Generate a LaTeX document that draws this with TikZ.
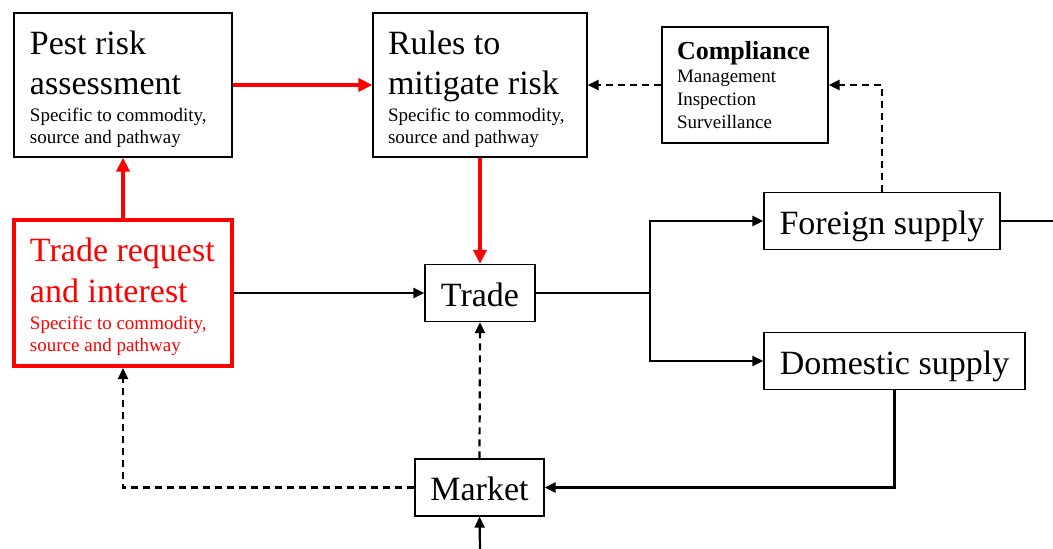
\documentclass[tikz,border=0pt]{standalone}
\usepackage{fontspec}
\setmainfont{Liberation Serif}
\usetikzlibrary{arrows.meta}
\definecolor{rred}{RGB}{255,0,0}
\newcommand{\smalltxt}{\fontsize{19}{22}\selectfont}
\newcommand{\bigtxt}{\fontsize{34}{40.5}\selectfont}
\newcommand{\natsp}{\spaceskip=0pt\xspaceskip=0pt\parindent=0pt\raggedright}
\newcommand{\subline}[2]{\par\vspace{5pt}\smalltxt\natsp\mbox{#1}\\\mbox{#2}\par}
\begin{document}
\begin{tikzpicture}[x=1pt,y=-1pt,
  box/.style={draw=black, line width=1.2pt, fill=white, inner ysep=0pt, align=left},
  big/.style={font=\bigtxt},
  onebox/.style={box, big, minimum height=57, inner xsep=2, text height=26pt, text depth=0pt},
  blk/.style={line width=2.2pt, draw=black},
  blkarr/.style={blk, -{Triangle[length=11pt,width=10pt]}},
  dsh/.style={blk, dash pattern=on 7pt off 5pt, -{Triangle[length=11pt,width=10pt]}},
  redarr/.style={line width=4pt, draw=rred, -{Triangle[length=14pt,width=13pt]}}]
\useasboundingbox (0,0) rectangle (1053,549);
% nodes
\node[box, big, minimum width=218, minimum height=144, inner xsep=16, text width=186] (pest) at (123,85)
  {\natsp\rule{0pt}{32pt}\mbox{Pest risk}\\\mbox{assessment}\subline{Specific to commodity,}{source and pathway}};
\node[box, big, minimum width=214, minimum height=144, inner xsep=15, text width=184] (rules) at (480,85)
  {\natsp\rule{0pt}{32pt}\mbox{Rules to}\\\mbox{mitigate risk}\subline{Specific to commodity,}{source and pathway}};
\node[box, minimum width=166, minimum height=116, inner xsep=15, text width=136, font=\fontsize{26}{30}\selectfont\bfseries] (comp) at (745,85)
  {\natsp\mbox{Compliance}\par\fontsize{19}{23}\selectfont\mdseries\natsp \mbox{Management}\\\mbox{Inspection}\\\mbox{Surveillance}\par};
\node[box, big, draw=rred, text=rred, line width=4pt, minimum width=218, minimum height=146, inner xsep=16, text width=186] (tr) at (123,293)
  {\natsp\rule{0pt}{31pt}\mbox{Trade request}\\\mbox{and interest}\subline{Specific to commodity,}{source and pathway}};
\node[onebox, minimum width=110] (trade) at (480,293) {Trade};
\node[onebox, minimum width=129] (market) at (479.5,487.5) {Market};
\node[onebox, minimum width=236] (foreign) at (882,221) {Foreign supply};
\node[onebox, minimum width=261] (domestic) at (894.5,361) {Domestic supply};
% coordinates
\coordinate (sp) at (650,293);
\coordinate (fout) at (1053,221);
\coordinate (bin) at (480,549);
% red connectors
\draw[redarr] (pest.east) -- (rules.west);
\draw[redarr] (tr.north) -- (pest.south);
\draw[redarr] (rules.south) -- (trade.north);
% dashed
\draw[dsh] (comp.west) -- (rules.east);
\draw[dsh] (foreign.north) |- (comp.east);
\draw[dsh] (market.north) -- (trade.south);
\draw[dsh] (market.west) -| (tr.south);
% solid
\draw[blkarr] (tr.east |- trade.west) -- (trade.west);
\draw[blk] (trade.east) -- (sp);
\draw[blkarr] (sp) |- (foreign.west);
\draw[blkarr] (sp) |- (domestic.west);
\draw[blk] (foreign.east) -- (fout);
\draw[blkarr] (domestic.south) |- (market.east);
\draw[blkarr] (bin) -- (market.south);
\end{tikzpicture}
\end{document}
